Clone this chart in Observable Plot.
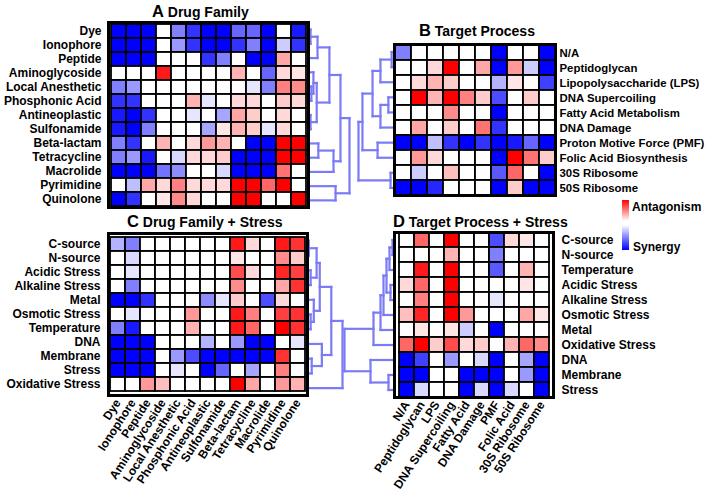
<!DOCTYPE html>
<html>
<head>
<meta charset="utf-8">
<script src="https://cdn.jsdelivr.net/npm/d3@7"></script>
<script src="https://cdn.jsdelivr.net/npm/@observablehq/plot@0.6"></script>
<style>
  body { margin: 0; background: #fff; }
  #chart { position: relative; width: 709px; height: 498px; overflow: hidden; background: #fff;
           font-family: "Liberation Sans", Arial, Helvetica, sans-serif; font-weight: bold; color: #000; }
  #chart svg { position: absolute; left: 0; top: 0; max-width: none; }
  .ttl { position: absolute; white-space: nowrap; font-size: 14px; line-height: 20px; }
  .ttl .L { font-size: 16.5px; }
  .lg { position: absolute; white-space: nowrap; font-size: 12px; line-height: 14px; }
  .bar { position: absolute; width: 7px; background: linear-gradient(to bottom, #ff0000 0%, #ffffff 42%, #ffffff 50%, #0000ff 100%); }
</style>
</head>
<body>
<div id="chart"></div>
<script>
// ---------------- data ----------------
const drugFamilies = ["Dye","Ionophore","Peptide","Aminoglycoside","Local Anesthetic","Phosphonic Acid",
  "Antineoplastic","Sulfonamide","Beta-lactam","Tetracycline","Macrolide","Pyrimidine","Quinolone"];
const targetProcesses = ["N/A","Peptidoglycan","Lipopolysaccharide (LPS)","DNA Supercoiling","Fatty Acid Metabolism",
  "DNA Damage","Proton Motive Force (PMF)","Folic Acid Biosynthesis","30S Ribosome","50S Ribosome"];
const targetShort = ["N/A","Peptidoglycan","LPS","DNA Supercoiling","Fatty Acid","DNA Damage","PMF",
  "Folic Acid","30S Ribosome","50S Ribosome"];
const stressRowsC = ["C-source","N-source","Acidic Stress","Alkaline Stress","Metal","Osmotic Stress",
  "Temperature","DNA","Membrane","Stress","Oxidative Stress"];
const stressRowsD = ["C-source","N-source","Temperature","Acidic Stress","Alkaline Stress","Osmotic Stress",
  "Metal","Oxidative Stress","DNA","Membrane","Stress"];

// interaction scores: negative = synergy (blue), positive = antagonism (red)
const valuesA = [
  [-1,-1,-1,0,-0.5,-0.8,-1,-1,-0.6,-0.6,-1,0,-0.9],
  [-1,-1,-1,0,-0.4,-0.8,-1,-1,-0.8,-0.5,-1,-0.2,-0.8],
  [-1,-1,-1,0,0,0,-0.8,-0.5,0,-1,-1,0.35,0],
  [0,0,0,0.9,0,0,0,0,0.3,0,-0.6,0.15,0.1],
  [-0.5,-0.4,0,0,0,0,0,0,0,-0.1,-0.5,0.5,0.45],
  [-0.8,-0.8,0,0,0,0.3,-0.1,0,0.15,0.15,0,0.2,0.15],
  [-0.9,-1,-0.8,0,0,-0.1,0,-0.35,0.35,0.2,0,0.15,0],
  [-0.9,-1,-0.5,0,0,0,-0.35,0.1,0.3,0.2,-0.1,0.15,0],
  [-0.5,-0.8,0,0.3,0,0.15,0.4,0.3,0,-1,-1,1,1],
  [-0.5,-0.4,-0.9,0,-0.15,0.15,0.15,0.2,-1,-1,-1,1,1],
  [-1,-1,-1,-0.55,-0.45,0,0,-0.15,-1,-1,-1,0.55,0],
  [0,-0.25,0.35,0.15,0.5,0.15,0.15,0.15,1,1,0.6,1,0],
  [-1,-0.8,0,0.1,0.45,0.15,0,0,1,1,0,0,1]
];
const valuesB = [
  [-0.5,0,0,0,0,0,-1,0,0,-1],
  [0,0,0.15,1,0,0.35,-1,0.4,-0.2,-1],
  [0,0.15,0.3,0.2,0,0,-0.3,0.1,0,-0.75],
  [0,1,0.3,1,0.5,0.2,-0.7,0,0.2,0],
  [0,0,0,0.45,0,0,-1,0,0,0],
  [0,0.35,0,0.2,0,0.55,-0.8,0,0,0],
  [-1,-1,-0.25,-0.8,-1,-0.8,-1,-0.9,-0.6,-1],
  [0,0.4,0.15,0,0,0,-1,1,0.55,0.2],
  [0,-0.2,0,0.25,0,0,-0.65,0.6,0,-1],
  [-1,-1,-0.85,0,0,0,-1,0.2,-1,-1]
];
const valuesC = [
  [-0.3,-0.5,0,0,0,0,0,0,0.9,0.15,0,0.9,0.8],
  [0,-0.15,0,0,0,0,0,0,0.1,0,0,0.45,0.2],
  [0,-0.1,0,0,0,0,0,0,0.7,0.15,0,0.85,0.75],
  [0,-0.5,0,0,0,0,0,0,0.45,0,0,0.35,0.8],
  [-1,-1,-0.8,0,0,0,-0.45,-0.1,0.2,0,-0.7,0.15,0],
  [0,-0.1,0,0,0,0.4,0,0,0.9,0.5,0,0.75,0.8],
  [-0.5,-0.9,0,0,0,0.3,0,0,0.9,0.6,0,1,0.8],
  [-1,-1,-1,0,0,0,-0.3,0,-0.4,-1,-1,0,-0.1],
  [-1,-1,-1,0,-0.4,-0.7,-1,-1,-1,-1,-1,0.8,0],
  [-1,-1,-1,0,-0.1,0,-1,-0.6,0,-0.35,0,0.5,0],
  [0,0,0.4,0.25,0,0,0,0,1,0.35,0,0.4,0.3]
];
const valuesD = [
  [0,0.6,0,1,0,0,-0.7,0.15,0.1,0],
  [0,0,0,0.3,0,0,-0.5,0,0,0],
  [0,0.9,0,1,0,0,-0.65,0,0.3,0],
  [0.15,0.6,0,1,0,0,0,0,0.1,0],
  [0,0.5,0,1,0,0,-0.1,0,0,0],
  [0.25,0.85,0,1,0.4,0,0,0,0.35,0.1],
  [0,0.1,0,0.1,-0.2,0,-1,0,0,0],
  [0.6,1,0.2,0.7,0.15,0.2,0,0.3,0.6,0.45],
  [-1,-0.75,0,-0.4,0,-0.15,-1,0,-0.35,-1],
  [-1,-1,0,0,-1,-1,-1,0,-0.4,-1],
  [-1,-0.15,0,0,-1,-0.15,-1,-0.15,0,-1]
];

// hierarchical clustering trees: [left, right, merge height (0..1)]
const treeA = [
  [
    [
      [["Dye","Ionophore",0.05],"Peptide",0.22],
      [["Aminoglycoside",["Local Anesthetic","Phosphonic Acid",0.07],0.12],["Antineoplastic","Sulfonamide",0.05],0.2],
      0.51
    ],
    [["Beta-lactam","Tetracycline",0.24],"Macrolide",0.61],
    0.78
  ],
  ["Pyrimidine","Quinolone",0.66],
  1
];
const treeB = [
  [
    [[["N/A","Peptidoglycan",0.08],"Lipopolysaccharide (LPS)",0.39],
     [["DNA Supercoiling","Fatty Acid Metabolism",0.17],"DNA Damage",0.39],0.61],
    ["Proton Motive Force (PMF)","Folic Acid Biosynthesis",0.47],
    0.89
  ],
  ["30S Ribosome","50S Ribosome",0.11],
  1
];
const treeC = [
  [
    [[["C-source","N-source",0.04],["Acidic Stress","Alkaline Stress",0.09],0.26],
     ["Metal",["Osmotic Stress","Temperature",0.09],0.18],0.35],
    ["DNA",["Membrane","Stress",0.12],0.41],
    0.68
  ],
  "Oxidative Stress",
  1
];
const treeD = [
  [
    [[[[["C-source","N-source",0.04],"Temperature",0.1],["Acidic Stress","Alkaline Stress",0.08],0.16],
      "Osmotic Stress",0.22],"Metal",0.28],
    "Oxidative Stress",
    0.42
  ],
  ["DNA",["Membrane","Stress",0.12],0.48],
  1
];

// ---------------- layout ----------------
const W = 709, H = 498;
const font = {fontFamily: "'Liberation Sans', Arial, Helvetica, sans-serif", fontSize: "12px",
              fontWeight: "bold", background: "transparent", overflow: "visible", color: "#000"};
const colorScale = {type: "linear", domain: [-1, 0, 1], range: ["#0000ff", "#ffffff", "#ff0000"], clamp: true};
const dendroColor = "#7b7bf6";

function heatmap({rows, cols, values, box, yAxis, yPad, xAxis, fontSize}) {
  const data = rows.flatMap((r, i) => cols.map((c, j) => ({r, c, v: values[i][j]})));
  return Plot.plot({
    width: W, height: H,
    marginLeft: box.left, marginRight: W - box.right, marginTop: box.top, marginBottom: H - box.bottom,
    style: {...font, fontSize: fontSize || font.fontSize},
    x: {domain: cols, padding: 0, axis: xAxis ? "bottom" : null, tickRotate: -57, tickSize: 0, tickPadding: 5, label: null},
    y: {domain: rows, padding: 0, axis: yAxis, tickSize: 0, tickPadding: yPad, label: null},
    color: colorScale,
    marks: [
      Plot.cell(data, {x: "c", y: "r", fill: "v", stroke: "#000", strokeWidth: 1.8, inset: 0}),
      Plot.frame({stroke: "#000", strokeWidth: 3})
    ]
  });
}

function dendrogram(tree, rows, {top, bottom, leafX, rootX}) {
  const segs = [];
  function walk(node) {
    if (typeof node === "string") return {h: 0, y: rows.indexOf(node) + 0.5};
    const a = walk(node[0]), b = walk(node[1]), h = node[2];
    segs.push({x1: a.h, y1: a.y, x2: h, y2: a.y});
    segs.push({x1: b.h, y1: b.y, x2: h, y2: b.y});
    segs.push({x1: h, y1: a.y, x2: h, y2: b.y});
    return {h, y: (a.y + b.y) / 2};
  }
  walk(tree);
  const lo = Math.min(leafX, rootX), hi = Math.max(leafX, rootX);
  return Plot.plot({
    width: W, height: H,
    marginLeft: lo, marginRight: W - hi, marginTop: top, marginBottom: H - bottom,
    style: font,
    x: {domain: [0, 1], reverse: rootX < leafX, axis: null},
    y: {domain: [0, rows.length], reverse: true, axis: null},
    marks: [
      Plot.link(segs, {x1: "x1", y1: "y1", x2: "x2", y2: "y2", stroke: dendroColor,
                       strokeWidth: 2.2, strokeLinecap: "square"})
    ]
  });
}

const boxA = {left: 108, right: 308, top: 22, bottom: 207};
const boxB = {left: 394, right: 555, top: 44, bottom: 195};
const boxC = {left: 108, right: 307, top: 233, bottom: 395};
const boxD = {left: 394, right: 553, top: 232, bottom: 397};

const chart = document.getElementById("chart");
chart.append(
  dendrogram(treeA, drugFamilies, {top: boxA.top, bottom: boxA.bottom, leafX: boxA.right, rootX: 349}),
  dendrogram(treeB, targetProcesses, {top: boxB.top, bottom: boxB.bottom, leafX: boxB.left, rootX: 358}),
  dendrogram(treeC, stressRowsC, {top: boxC.top, bottom: boxC.bottom, leafX: boxC.right, rootX: 342}),
  dendrogram(treeD, stressRowsD, {top: boxD.top, bottom: boxD.bottom, leafX: boxD.left, rootX: 344}),
  heatmap({rows: drugFamilies, cols: drugFamilies, values: valuesA, box: boxA, yAxis: "left", yPad: 7, xAxis: false}),
  heatmap({rows: targetProcesses, cols: targetShort, values: valuesB, box: boxB, yAxis: "right", yPad: 4, xAxis: false, fontSize: "11.4px"}),
  heatmap({rows: stressRowsC, cols: drugFamilies, values: valuesC, box: boxC, yAxis: "left", yPad: 8, xAxis: true}),
  heatmap({rows: stressRowsD, cols: targetShort, values: valuesD, box: boxD, yAxis: "right", yPad: 8, xAxis: true})
);

// titles and legend
function addDiv(cls, html, left, top) {
  const d = document.createElement("div");
  d.className = cls; d.innerHTML = html;
  d.style.left = left + "px"; d.style.top = top + "px";
  chart.append(d);
  return d;
}
addDiv("ttl", '<span class="L">A</span> Drug Family', 152, 1);
addDiv("ttl", '<span class="L">B</span> Target Process', 419, 20);
addDiv("ttl", '<span class="L">C</span> Drug Family + Stress', 127, 211);
addDiv("ttl", '<span class="L">D</span> Target Process + Stress', 393, 211);
const bar = addDiv("bar", "", 622, 200); bar.style.height = "50px";
addDiv("lg", "Antagonism", 632, 200);
addDiv("lg", "Synergy", 633, 240);
</script>
</body>
</html>
